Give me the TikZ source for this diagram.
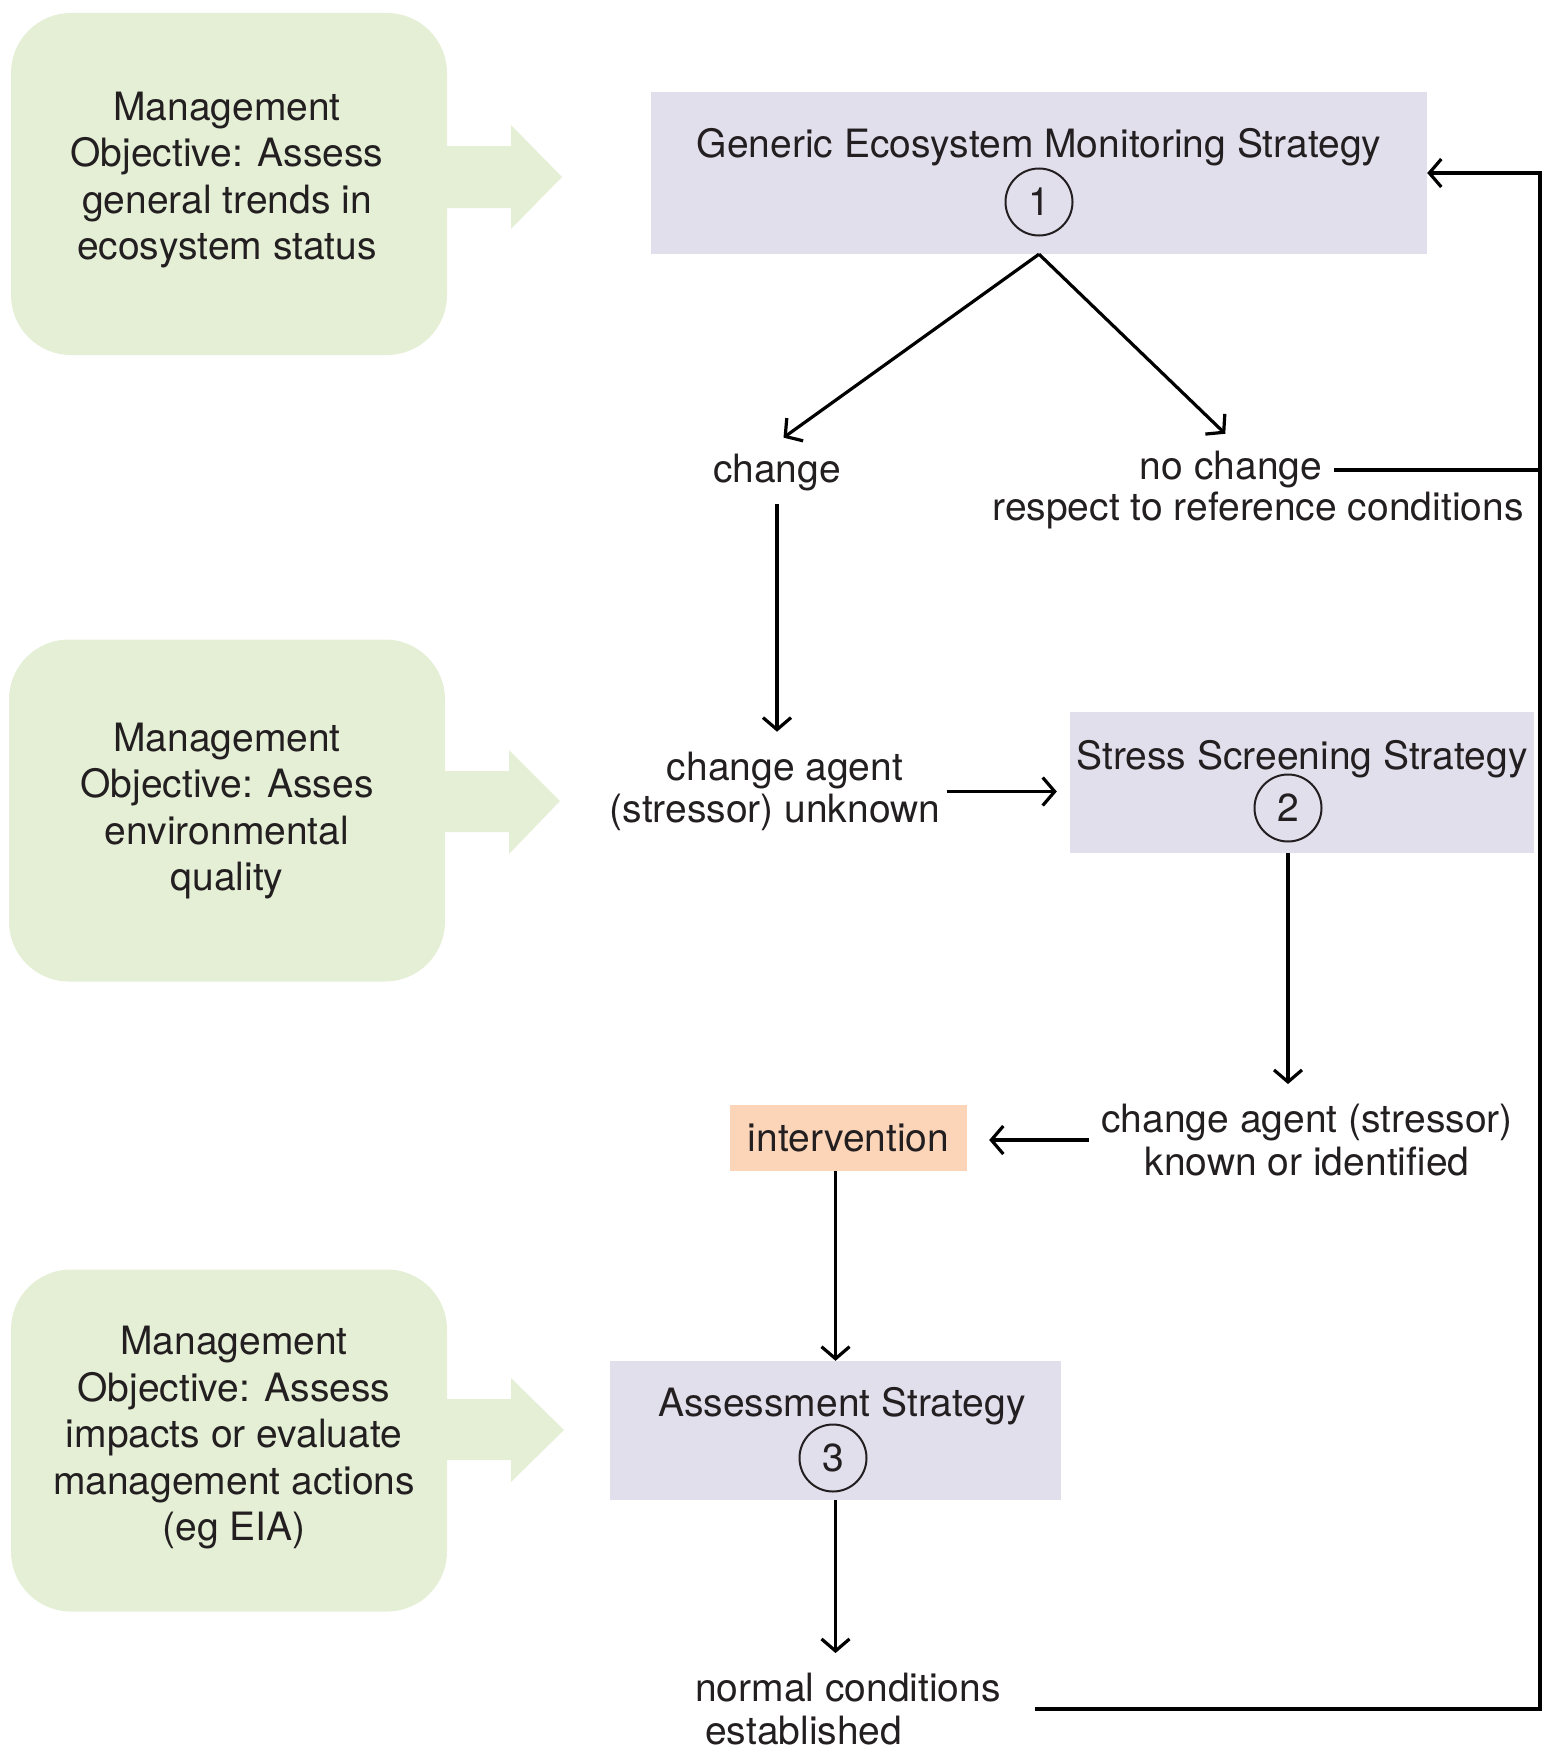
\documentclass[tikz,border=0pt]{standalone}
\usepackage{fontspec}
\setmainfont{TeX Gyre Heros}
\usetikzlibrary{arrows.meta,calc}
\definecolor{gfill}{RGB}{228,239,214}
\definecolor{pfill}{RGB}{226,223,237}
\definecolor{ofill}{RGB}{252,213,185}
\definecolor{ink}{RGB}{35,31,32}
\begin{document}
\begin{tikzpicture}[x=1pt,y=-1pt,
  font=\fontsize{39}{46.5}\selectfont, text=ink,
  gbox/.style={fill=gfill, rounded corners=60pt, minimum width=436pt, minimum height=342pt, inner sep=0pt},
  gtext/.style={align=center, inner sep=0pt},
  pbox/.style={fill=pfill, inner sep=0pt},
  num/.style={circle, draw=ink, line width=2pt, minimum size=67pt, inner sep=0pt},
  lbl/.style={inner sep=12pt, align=center, font=\fontsize{39}{42.5}\selectfont},
  arr/.style={draw=black, line width=3.2pt, -{Straight Barb[length=12pt,width=28pt]}},
  ln/.style={draw=black, line width=3.2pt}]
\useasboundingbox (0,0) rectangle (1547,1753);

% green objective boxes with block arrows
\node[gbox] (g1) at (229,184) {};
\fill[gfill] (440,146) -- (511,146) -- (511,125) -- (562,177) -- (511,229) -- (511,208) -- (440,208) -- cycle;
\node[gtext] (g1t) at (227,180) {Management\\Objective: Assess\\general trends in\\ecosystem status};

\node[gbox] (g2) at (227,810.5) {};
\fill[gfill] (438,771) -- (509,771) -- (509,750) -- (560,801) -- (509,854) -- (509,832) -- (438,832) -- cycle;
\node[gtext] (g2t) at (227,811) {Management\\Objective: Asses\\environmental\\quality};

\node[gbox] (g3) at (229,1440.5) {};
\fill[gfill] (440,1399) -- (511,1399) -- (511,1378) -- (564,1430) -- (511,1482) -- (511,1460) -- (440,1460) -- cycle;
\node[gtext] (g3t) at (234,1438) {Management\\Objective: Assess\\impacts or evaluate\\management actions\\(eg EIA)};

% strategy boxes
\node[pbox, minimum width=776pt, minimum height=162pt] (p1) at (1039,173) {};
\node (p1t) at (1039,147) {Generic Ecosystem Monitoring Strategy};
\node[num] (c1) at (1039,202) {1};

\node[pbox, minimum width=464pt, minimum height=141pt] (p2) at (1302,782.5) {};
\node (p2t) at (1302,759) {Stress Screening Strategy};
\node[num] (c2) at (1288,808) {2};

\node[pbox, minimum width=451pt, minimum height=139pt] (p3) at (835.5,1430.5) {};
\node (p3t) at (842,1406) {Assessment Strategy};
\node[num] (c3) at (833,1458) {3};

\node[fill=ofill, minimum width=237pt, minimum height=66pt, inner sep=0pt] (int) at (848.5,1138) {\raisebox{-5pt}{intervention}};

% labels
\node[lbl] (chg) at (777,473) {change};
\node[lbl] (nochg) at (1231,470) {no change};
\node[lbl] (resp) at (1258,510) {respect to reference conditions};
\node[lbl] (agent) at (775,791.5) {\hspace*{20pt}change agent\\(stressor) unknown};
\node[lbl] (known) at (1307,1140) {change agent (stressor)\\known or identified};
\node[lbl, align=left] (norm) at (848,1709) {normal conditions\\\hspace*{10pt}established};

% connectors
\draw[arr, shorten >=8pt] (p1.south) -- (chg.north);
\draw[arr, shorten >=8pt] (p1.south) -- (nochg.north);
\draw[arr, shorten >=8pt] (chg.south) -- (chg.south |- agent.north);
\draw[arr, shorten >=13pt] ([xshift=-6pt]agent.east) -- (agent.east -| p2.west);
\draw[arr, shorten >=8pt] (c2 |- p2.south) -- (c2 |- known.north);
\draw[arr, shorten >=22pt] (known.west) -- (known.west -| int.east);
\draw[arr] (int.south -| p3.north) -- (p3.north);
\draw[arr, shorten >=8pt] (p3.south) -- (p3.south |- norm.north);
\coordinate (loop) at (1540,467);
\draw[ln] (nochg.east) -- (nochg.east -| loop);
\draw[arr] ([xshift=22pt]norm.east) -| (loop) |- (p1.east);
\end{tikzpicture}
\end{document}
